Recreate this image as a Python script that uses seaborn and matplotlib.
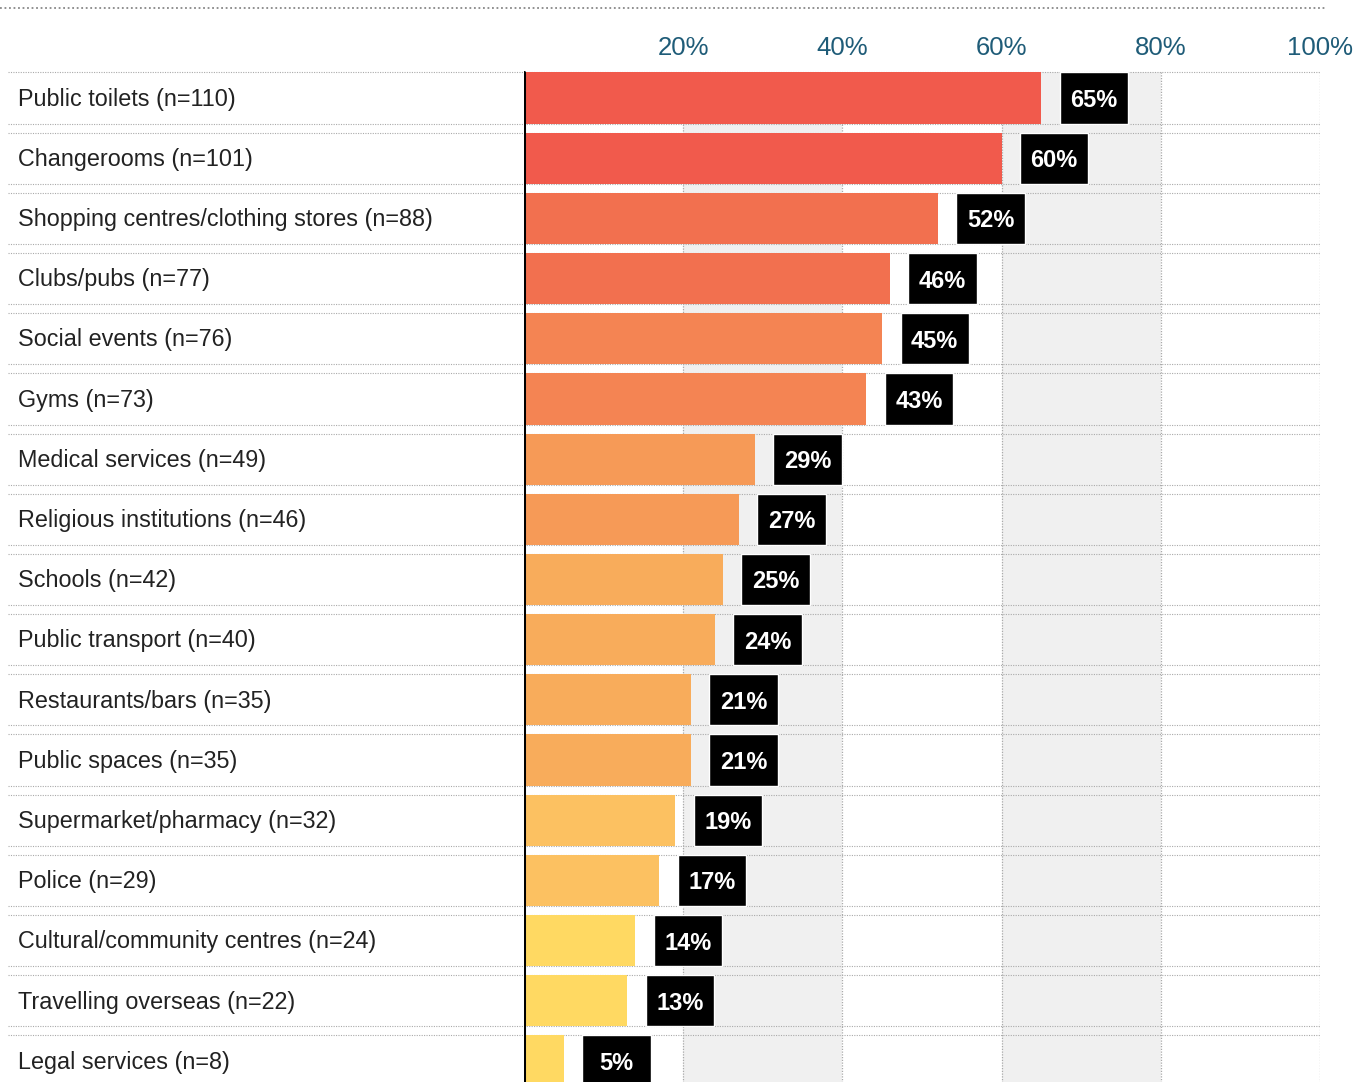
import matplotlib
matplotlib.use("Agg")
import matplotlib.pyplot as plt
from matplotlib.lines import Line2D
import seaborn as sns

sns.set_theme(style="white")
plt.rcParams["font.family"] = ["Liberation Sans", "DejaVu Sans"]

# data
categories = [
    "Public toilets (n=110)",
    "Changerooms (n=101)",
    "Shopping centres/clothing stores (n=88)",
    "Clubs/pubs (n=77)",
    "Social events (n=76)",
    "Gyms (n=73)",
    "Medical services (n=49)",
    "Religious institutions (n=46)",
    "Schools (n=42)",
    "Public transport (n=40)",
    "Restaurants/bars (n=35)",
    "Public spaces (n=35)",
    "Supermarket/pharmacy (n=32)",
    "Police (n=29)",
    "Cultural/community centres (n=24)",
    "Travelling overseas (n=22)",
    "Legal services (n=8)",
]
percent = [65, 60, 52, 46, 45, 43, 29, 27, 25, 24, 21, 21, 19, 17, 14, 13, 5]
bar_colors = [
    "#F15A4C", "#F15A4C", "#F2704F", "#F2704F", "#F48453", "#F48453",
    "#F69A57", "#F69A57", "#F8AC5B", "#F8AC5B", "#F8AC5B", "#F8AC5B",
    "#FCC161", "#FCC161", "#FFD962", "#FFD962", "#FFD962",
]
tick_values = [20, 40, 60, 80, 100]
tick_labels = ["20%", "40%", "60%", "80%", "100%"]

W, H = 1368, 1082
fig = plt.figure(figsize=(W / 100, H / 100), dpi=100)
ax = fig.add_axes([524 / W, -0.0084, 796 / W, 0.9456])

n = len(categories)
bh = 0.85
half = bh / 2
x_left = (8 - 524) / 7.96

# background bands and grid
for a, b in [(20, 40), (60, 80)]:
    ax.fill_between([a, b], -half, n + 1, color="#F0F0F0", zorder=0, linewidth=0)
for v in tick_values:
    ax.plot([v, v], [-half, n + 1], color="#AAAAAA", lw=0.9,
            ls=(0, (1, 1.2)), zorder=1)
for i in range(n):
    for y in (i - half, i + half):
        ax.plot([x_left, 100], [y, y], color="#AAAAAA", lw=0.8,
                ls=(0, (1, 1.2)), zorder=1, clip_on=False)

sns.barplot(x=percent, y=categories, hue=categories, palette=bar_colors,
            legend=False, width=bh, orient="h", ax=ax, zorder=2,
            linewidth=0, saturation=1)

# black value boxes
gap, box_w = 2.3, 8.6
ax.barh(range(n), [box_w] * n, left=[p + gap for p in percent], height=bh,
        color="black", zorder=3)
for i, p in enumerate(percent):
    ax.text(p + gap + box_w / 2, i + 0.04, f"{p}%", color="white",
            fontsize=17, fontweight="bold", ha="center", va="center", zorder=4)
    ax.text((18 - 524) / 7.96, i + 0.02, categories[i], fontsize=16.8,
            color="#222222", ha="left", va="center", clip_on=False)

ax.plot([0, 0], [-half, n + 1], color="black", lw=2.2, zorder=5)

ax.set_xlim(0, 100)
ax.set_ylim(n - 0.5, -0.5)
ax.set_xticks(tick_values)
ax.set_xticklabels(tick_labels)
ax.set_yticks([])
ax.set_xlabel("")
ax.set_ylabel("")
ax.tick_params(axis="x", top=True, labeltop=True, bottom=False,
               labelbottom=False, length=0, pad=6, labelsize=18.5,
               labelcolor="#1F5C78")
for s in ax.spines.values():
    s.set_visible(False)

fig.add_artist(Line2D([0, 1325 / W], [1 - 8 / H, 1 - 8 / H],
                      transform=fig.transFigure, color="#888888", lw=1.3,
                      ls=(0, (1, 1.5))))

fig.savefig("out.png", dpi=100)
